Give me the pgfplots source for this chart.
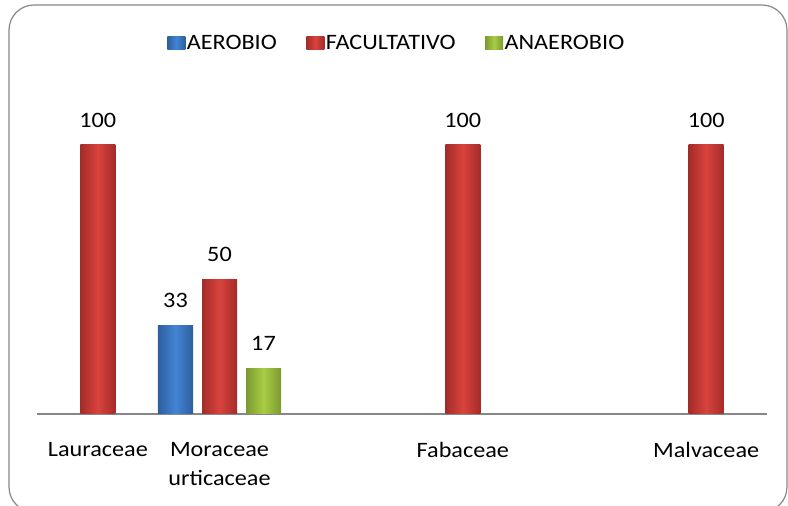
\documentclass[border=0pt]{standalone}
\usepackage{pgfplots}
\pgfplotsset{compat=1.18}
\usepackage{fontspec}
\setmainfont{Carlito}[FakeStretch=1.1]
\definecolor{bluedark}{HTML}{2E5E9C}
\definecolor{bluemid}{HTML}{4385D6}
\definecolor{reddark}{HTML}{A32C29}
\definecolor{redmid}{HTML}{DA433E}
\definecolor{greendark}{HTML}{7B9930}
\definecolor{greenmid}{HTML}{A8CD44}
\definecolor{axisgray}{HTML}{878787}
\begin{document}
\begin{tikzpicture}[x=1pt,y=1pt]
\useasboundingbox (0,0) rectangle (788,506);
\clip (0,0) rectangle (788,506);
\draw[axisgray, line width=1.2pt, rounded corners=25pt] (9,-6) rectangle (787,501);
\begin{axis}[
  at={(37pt,92pt)}, anchor=south west,
  width=730pt, height=322.8pt, scale only axis,
  xmin=-0.5, xmax=5.5, ymin=0, ymax=120,
  axis x line*=bottom, axis y line=none,
  axis line style={-, draw=axisgray, line width=1.5pt},
  xtick={0,1,2,3,4,5},
  xticklabels={Lauraceae,{Moraceae\\urticaceae},,Fabaceae,,Malvaceae},
  major tick length=0pt,
  xticklabel style={font=\fontsize{22}{29}\selectfont, align=center, anchor=north, inner sep=0pt, yshift=-27.7pt},
  ybar, bar width=35pt,
  /pgf/number format/assume math mode=true,
  nodes near coords,
  every node near coord/.append style={font=\fontsize{22}{26}\selectfont, anchor=base, inner sep=0pt, yshift=17.5pt, black},
  legend columns=3,
  legend style={at={(0.4925,1.1493)}, anchor=center, draw=none, fill=none,
    font=\fontsize{22}{26}\selectfont,
    /tikz/every odd column/.append style={column sep=0pt},
    /tikz/every even column/.append style={column sep=28pt},
    nodes={inner sep=1.5pt}},
  legend image code/.code={\path[#1, draw=none] (0pt,-6.5pt) rectangle (18pt,6.5pt);},
  blue bar/.style={draw=none, left color=bluedark, right color=bluedark, middle color=bluemid, bar shift=-44pt},
  red bar/.style={draw=none, left color=reddark, right color=reddark, middle color=redmid, bar shift=0pt},
  green bar/.style={draw=none, left color=greendark, right color=greendark, middle color=greenmid, bar shift=44pt},
]
% AEROBIO
\addplot[blue bar] coordinates {(1,33)};
% FACULTATIVO (one plot per bar so that each bar gets its own shading)
\addplot[red bar] coordinates {(0,100)};
% ANAEROBIO
\addplot[green bar] coordinates {(1,17)};
\addplot[red bar, forget plot] coordinates {(1,50)};
\addplot[red bar, forget plot] coordinates {(3,100)};
\addplot[red bar, forget plot] coordinates {(5,100)};
\legend{AEROBIO,FACULTATIVO,ANAEROBIO}
\end{axis}
\end{tikzpicture}
\end{document}
